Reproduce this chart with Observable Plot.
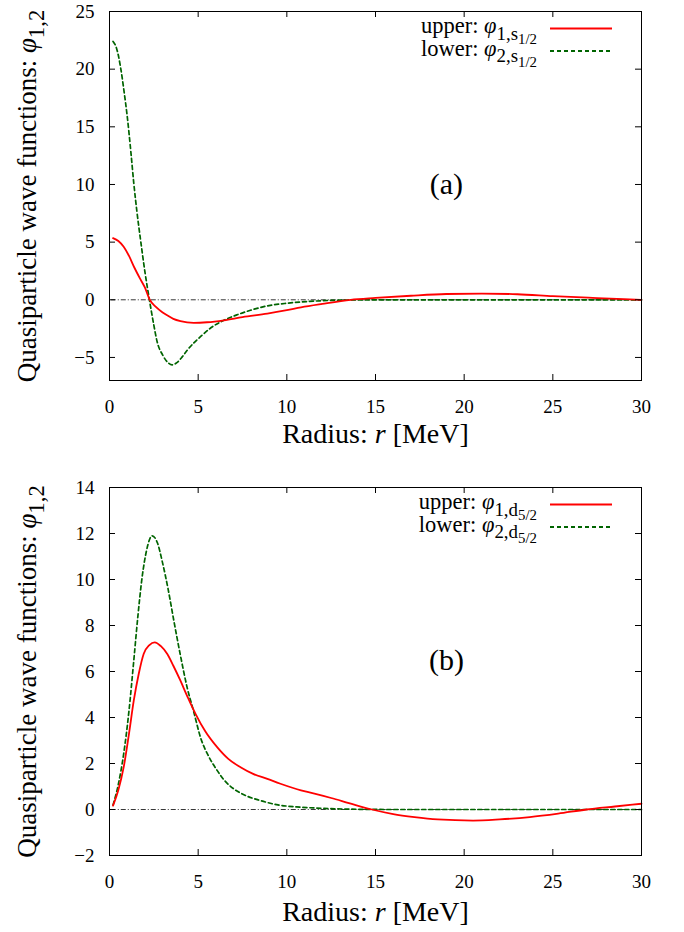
<!DOCTYPE html>
<html>
<head>
<meta charset="utf-8">
<script src="https://cdn.jsdelivr.net/npm/d3@7"></script>
<script src="https://cdn.jsdelivr.net/npm/@observablehq/plot@0.6"></script>
<style>
  body { margin: 0; background: #fff; }
  #chart svg { display: block; font-family: "Liberation Serif", "DejaVu Serif", serif !important; }
  #chart text, #chart tspan { white-space: pre; font-family: "Liberation Serif", "DejaVu Serif", serif !important; }
</style>
</head>
<body>
<div id="chart"></div>
<script>
// ---------- data ----------
const radiusTicks = [0, 5, 10, 15, 20, 25, 30];
const yTicksA = [-5, 0, 5, 10, 15, 20, 25];
const yTicksB = [-2, 0, 2, 4, 6, 8, 10, 12, 14];
const zeroLine = [0];

// panel (a): s1/2
const rUpperA = [0.2, 0.5, 0.8, 1.1, 1.4, 1.7, 2.0, 2.27, 2.6, 3.0, 3.25, 3.6, 4.0, 4.75, 5.5, 6.45, 7.5, 8.9, 10, 10.8, 12, 13.6, 15, 17, 19, 21, 23, 25, 27, 29, 30];
const vUpperA = [5.35, 5.1, 4.6, 3.8, 2.8, 1.9, 1.05, 0.0, -0.6, -1.1, -1.35, -1.65, -1.85, -2.0, -1.95, -1.78, -1.5, -1.2, -0.9, -0.65, -0.35, 0.0, 0.16, 0.35, 0.5, 0.54, 0.48, 0.32, 0.18, 0.05, 0.0];
const rLowerA = [0.2, 0.4, 0.62, 0.8, 1.0, 1.2, 1.37, 1.55, 1.75, 2.0, 2.25, 2.5, 2.68, 3.0, 3.3, 3.53, 3.8, 4.1, 4.37, 4.75, 5.13, 5.7, 6.45, 7.2, 7.95, 9, 10, 10.8, 12, 13.5, 15, 20, 25, 30];
const vLowerA = [22.4, 21.8, 20.2, 18.3, 15.9, 12.9, 10.1, 7.6, 5.2, 2.4, 0.0, -2.2, -3.6, -4.8, -5.45, -5.64, -5.45, -4.95, -4.4, -3.75, -3.2, -2.45, -1.78, -1.3, -0.91, -0.5, -0.3, -0.19, -0.08, -0.02, 0, 0, 0, 0];

// panel (b): d5/2
const rUpperB = [0.2, 0.5, 0.8, 1.1, 1.37, 1.65, 1.93, 2.25, 2.55, 2.9, 3.25, 3.6, 4.0, 4.4, 4.85, 5.4, 6.07, 6.7, 7.39, 8.1, 8.9, 9.64, 10.8, 11.5, 12.5, 13.5, 14.8, 16, 17.2, 18.5, 20.5, 22, 23.7, 25.3, 26.9, 28.5, 30];
const vUpperB = [0.17, 0.85, 1.84, 3.3, 4.74, 5.9, 6.77, 7.15, 7.27, 7.1, 6.77, 6.25, 5.6, 4.9, 4.16, 3.4, 2.71, 2.2, 1.84, 1.55, 1.33, 1.12, 0.83, 0.7, 0.5, 0.28, 0.0, -0.2, -0.33, -0.43, -0.48, -0.43, -0.33, -0.18, 0.0, 0.13, 0.25];
const rLowerB = [0.2, 0.5, 0.8, 1.1, 1.37, 1.6, 1.84, 2.1, 2.4, 2.7, 2.97, 3.3, 3.63, 4.0, 4.38, 4.75, 5.13, 5.6, 6.07, 6.5, 7.0, 7.7, 8.5, 9.5, 10.8, 12, 14, 16, 20, 25, 30];
const vLowerB = [0.2, 1.1, 2.42, 4.3, 6.48, 8.4, 10.1, 11.3, 11.9, 11.6, 10.8, 9.6, 8.2, 6.7, 5.3, 4.25, 3.14, 2.3, 1.7, 1.25, 0.9, 0.6, 0.39, 0.2, 0.1, 0.05, 0.01, 0, 0, 0, 0];

// ---------- styling ----------
const FONT = "Liberation Serif, DejaVu Serif, serif";
const W = 684, ML = 109, MR = 43, H = 466;
const RED = "#ff0000", GREEN = "#006400";
const GREEN_DASH = "4,3";

// rich text helper: parts = [text, level, italic]
function rich(sel, base, parts) {
  sel.text(null);
  const sizes = [1, 0.84, 0.66];
  const offs = [0, 0.3, 0.5];
  let prev = 0;
  for (const [t, lvl, it] of parts) {
    const ts = sel.append("tspan")
      .attr("font-size", (base * sizes[lvl]).toFixed(2))
      .attr("dy", ((offs[lvl] - offs[prev]) * base).toFixed(2))
      .text(t);
    if (it) ts.attr("font-style", "italic");
    prev = lvl;
  }
}
function richByContent(svg, plain, base, parts) {
  svg.querySelectorAll("text").forEach(el => {
    if (el.textContent === plain) rich(d3.select(el), base, parts);
  });
}

function panel(cfg) {
  const innerH = H - cfg.marginTop - cfg.marginBottom;
  const innerW = W - ML - MR;
  const yLabel = "Quasiparticle wave functions: φ1,2";
  const xLabel = "Radius: r [MeV]";
  const svg = Plot.plot({
    width: W, height: H,
    marginLeft: ML, marginRight: MR, marginTop: cfg.marginTop, marginBottom: cfg.marginBottom,
    style: {fontFamily: FONT, fontSize: "19px", color: "black", background: "white"},
    x: {domain: [0, 30]},
    y: {domain: cfg.yDomain},
    marks: [
      Plot.ruleY(zeroLine, {x1: 0.1, x2: 30, stroke: "#222", strokeWidth: 0.9, strokeDasharray: "5,2,1,2"}),
      Plot.line(cfg.rLower, {x: cfg.rLower, y: cfg.vLower, stroke: GREEN, strokeWidth: 1.7, strokeDasharray: GREEN_DASH, curve: "monotone-x"}),
      Plot.line(cfg.rUpper, {x: cfg.rUpper, y: cfg.vUpper, stroke: RED, strokeWidth: 1.8, curve: "monotone-x"}),
      // inward ticks on all four sides
      Plot.tickX(radiusTicks, {x: d => d, insetTop: innerH - 6, stroke: "black"}),
      Plot.tickX(radiusTicks, {x: d => d, insetBottom: innerH - 6, stroke: "black"}),
      Plot.tickY(cfg.yTicks, {y: d => d, insetRight: innerW - 6, stroke: "black"}),
      Plot.tickY(cfg.yTicks, {y: d => d, insetLeft: innerW - 6, stroke: "black"}),
      Plot.frame({stroke: "black", strokeWidth: 1}),
      Plot.axisX({ticks: radiusTicks, tickSize: 0, tickPadding: 19, label: null, fontSize: 19}),
      Plot.axisY({ticks: cfg.yTicks, tickSize: 0, tickPadding: 15, label: null, fontSize: 19}),
      Plot.text([xLabel], {frameAnchor: "bottom", dy: cfg.xLabelDy, fontSize: 28, lineAnchor: "middle", text: d => d}),
      Plot.text([yLabel], {frameAnchor: "left", textAnchor: "middle", dx: -82, rotate: -90, fontSize: 27, lineAnchor: "middle", text: d => d}),
      Plot.text([cfg.tag], {x: cfg.tagPos[0], y: cfg.tagPos[1], fontSize: 30, lineAnchor: "middle", text: d => d})
    ]
  });
  richByContent(svg, xLabel, 28, [["Radius: ", 0], ["r", 0, true], [" [MeV]", 0]]);
  richByContent(svg, yLabel, 27, [["Quasiparticle wave functions: ", 0], ["φ", 0, true], ["1,2", 1]]);

  // legend (inside the frame, top right)
  const g = d3.select(svg).append("g").attr("font-family", FONT);
  cfg.legend.forEach((e, i) => {
    const yb = cfg.marginTop + 22 + i * 22.5;
    const t = g.append("text").attr("x", 537).attr("y", yb).attr("text-anchor", "end").attr("fill", "black");
    rich(t, 22.5, e.parts);
    g.append("line").attr("x1", 550).attr("x2", 612).attr("y1", yb - 4.5).attr("y2", yb - 4.5)
      .attr("stroke", e.color).attr("stroke-width", 1.8).attr("stroke-dasharray", e.dash);
  });
  return svg;
}

const chart = document.getElementById("chart");
chart.appendChild(panel({
  rUpper: rUpperA, vUpper: vUpperA, rLower: rLowerA, vLower: vLowerA,
  yTicks: yTicksA, yDomain: [-7, 25], marginTop: 11, marginBottom: 86, xLabelDy: 54,
  tag: "(a)", tagPos: [19, 10],
  legend: [
    {parts: [["upper: ", 0], ["φ", 0, true], ["1,s", 1], ["1/2", 2]], color: RED, dash: null},
    {parts: [["lower: ", 0], ["φ", 0, true], ["2,s", 1], ["1/2", 2]], color: GREEN, dash: GREEN_DASH}
  ]
}));
chart.appendChild(panel({
  rUpper: rUpperB, vUpper: vUpperB, rLower: rLowerB, vLower: vLowerB,
  yTicks: yTicksB, yDomain: [-2, 14], marginTop: 21, marginBottom: 77, xLabelDy: 57,
  tag: "(b)", tagPos: [19, 6.5],
  legend: [
    {parts: [["upper: ", 0], ["φ", 0, true], ["1,d", 1], ["5/2", 2]], color: RED, dash: null},
    {parts: [["lower: ", 0], ["φ", 0, true], ["2,d", 1], ["5/2", 2]], color: GREEN, dash: GREEN_DASH}
  ]
}));
</script>
</body>
</html>
